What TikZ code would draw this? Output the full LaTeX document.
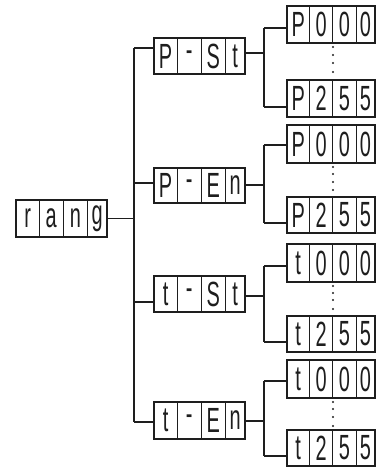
\documentclass[tikz,border=0pt]{standalone}
\usepackage{fontspec}
\setmainfont{Liberation Sans}
\usetikzlibrary{calc}
\definecolor{ink}{HTML}{1E1E1E}
\tikzset{
  dispbox/.style={draw=ink, line width=1.3pt, inner sep=0pt, outer sep=0pt, rectangle},
  divider/.style={draw=ink, line width=0.9pt},
  conn/.style={draw=ink, line width=1.1pt},
  segchar/.style={inner sep=0pt, text=ink, font=\fontsize{35}{35}\selectfont},
  sdot/.style={fill=ink}
}
\newcommand\segdisp[6]{%
  \node[dispbox, minimum width={(#4-#2)*1pt}, minimum height={(#5-#3)*1pt}] (#1) at ({(#2+#4)/2},{(#3+#5)/2}) {};
  \foreach \f in {0.255,0.52,0.785}{\draw[divider] ($(#1.north west)!\f!(#1.north east)$) -- ($(#1.south west)!\f!(#1.south east)$);}
  \foreach \c [count=\i] in {#6}{%
    \pgfmathsetmacro\f{{0.1275,0.3875,0.6525,0.8925}[\i-1]}
    \node[segchar] at ($(#1.west)!\f!(#1.east)$) {\scalebox{0.57}[1]{\c}};}
}
\begin{document}
\begin{tikzpicture}[x=1pt,y=-1pt]
\useasboundingbox (0,0) rectangle (381,468);
% displays
\segdisp{rang}{16}{200}{107}{237}{r,a,n,g}
\segdisp{pst}{154}{38}{245}{74}{P,-,S,t}
\segdisp{pen}{154}{168}{245}{203}{P,-,E,n}
\segdisp{tst}{154}{276}{245}{312}{t,-,S,t}
\segdisp{ten}{154}{402}{245}{439}{t,-,E,n}
\segdisp{pa0}{287}{6}{375}{43}{P,0,0,0}
\segdisp{pa5}{287}{80}{375}{117}{P,2,5,5}
\segdisp{pb0}{287}{125}{375}{163}{P,0,0,0}
\segdisp{pb5}{287}{197}{375}{233}{P,2,5,5}
\segdisp{ta0}{287}{244}{375}{282}{t,0,0,0}
\segdisp{ta5}{287}{316}{375}{352}{t,2,5,5}
\segdisp{tb0}{287}{360}{375}{398}{t,0,0,0}
\segdisp{tb5}{287}{430}{375}{466}{t,2,5,5}
% main trunk
\coordinate (t0) at (134,218.5);
\coordinate (t1) at (134,48);
\coordinate (t2) at (134,183);
\coordinate (t3) at (134,302);
\coordinate (t4) at (134,422);
\draw[conn] (rang.east) -- (t0);
\draw[conn] (t1) -- (t4);
\draw[conn] (t1) -- (pst.west |- t1);
\draw[conn] (t2) -- (pen.west |- t2);
\draw[conn] (t3) -- (tst.west |- t3);
\draw[conn] (t4) -- (ten.west |- t4);
% sub trunks
\coordinate (sa) at (264,53);
\coordinate (sa1) at (264,28);
\coordinate (sa2) at (264,107);
\draw[conn] (pst.east |- sa) -- (sa);
\draw[conn] (sa1) -- (sa2);
\draw[conn] (sa1) -- (pa0.west |- sa1);
\draw[conn] (sa2) -- (pa5.west |- sa2);
\coordinate (sb) at (264,185);
\coordinate (sb1) at (264,145);
\coordinate (sb2) at (264,223);
\draw[conn] (pen.east |- sb) -- (sb);
\draw[conn] (sb1) -- (sb2);
\draw[conn] (sb1) -- (pb0.west |- sb1);
\draw[conn] (sb2) -- (pb5.west |- sb2);
\coordinate (sc) at (264,296);
\coordinate (sc1) at (264,266);
\coordinate (sc2) at (264,342);
\draw[conn] (tst.east |- sc) -- (sc);
\draw[conn] (sc1) -- (sc2);
\draw[conn] (sc1) -- (ta0.west |- sc1);
\draw[conn] (sc2) -- (ta5.west |- sc2);
\coordinate (sd) at (264,421);
\coordinate (sd1) at (264,381);
\coordinate (sd2) at (264,456);
\draw[conn] (ten.east |- sd) -- (sd);
\draw[conn] (sd1) -- (sd2);
\draw[conn] (sd1) -- (tb0.west |- sd1);
\draw[conn] (sd2) -- (tb5.west |- sd2);
% dots
\foreach \y in {47,55,63,72, 167,174,182,190, 286,293,300,309, 402,409,417,426}
  \fill[sdot] (333,\y) circle (1.2pt);
\end{tikzpicture}
\end{document}
